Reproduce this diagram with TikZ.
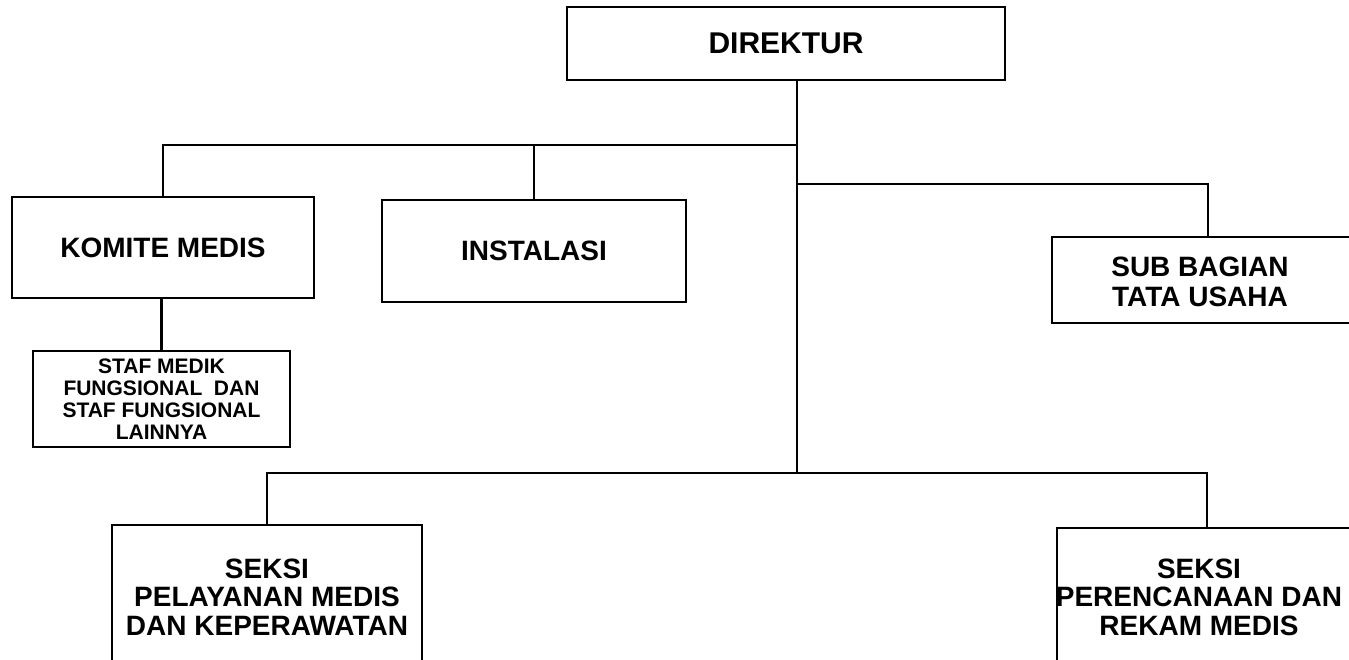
\documentclass[tikz,border=0pt]{standalone}
\usepackage{fontspec}
\setmainfont{Liberation Sans}

\begin{document}
\begin{tikzpicture}[x=1pt, y=-1pt, line width=2.8pt,
    box/.style = {draw, rectangle, inner sep=2pt, align=center, font=\bfseries\fontsize{28}{28.5}\selectfont},
    smallbox/.style = {box, font=\bfseries\fontsize{21}{22}\selectfont}]
            \useasboundingbox (0,0) rectangle (1349,660);
            \clip (0,0) rectangle (1349,660);
            % Nodes
            \node[box, font=\bfseries\fontsize{30}{32}\selectfont, minimum width=438pt, minimum height=73pt] (dir) at (786,43.5) {DIREKTUR};
            \node[box, minimum width=302pt, minimum height=101pt] (komite) at (163,247.5) {KOMITE MEDIS};
            \node[box, minimum width=304pt, minimum height=102pt] (instal) at (534,251) {INSTALASI};
            \node[smallbox, minimum width=257pt, minimum height=96pt] (staf) at (161.5,399) {STAF MEDIK\\FUNGSIONAL\ \ DAN\\STAF FUNGSIONAL\\LAINNYA};
            \node[box, font=\bfseries\fontsize{28}{30}\selectfont, minimum width=306pt, minimum height=86pt,
                  label={[font=\bfseries\fontsize{28}{30}\selectfont, align=center, xshift=-5pt, yshift=-2pt]center:SUB BAGIAN\\TATA USAHA}] (subbag) at (1205,280) {};
            \node[box, minimum width=310pt, minimum height=144pt] (seksiA) at (267,597) {SEKSI\\PELAYANAN MEDIS\\DAN KEPERAWATAN};
            \node[box, minimum width=300pt, minimum height=138pt,
                  label={[font=\bfseries\fontsize{28}{28.5}\selectfont, align=center, xshift=-8pt]center:SEKSI\\PERENCANAAN DAN\\REKAM MEDIS}] (seksiB) at (1207,597) {};
            \coordinate (top) at (797,145);
            \coordinate (mid) at (797,184);
            \coordinate (low) at (797,473);
            % Edges
            \draw (dir.south -| top) -- (low);
            \draw (komite.north) |- (top);
            \draw (instal.north) -- (instal.north |- top);
            \draw (mid) -| ([xshift=3pt]subbag.north);
            \draw (staf.north) -- (staf.north |- komite.south);
            \draw (seksiA.north) |- (low);
            \draw (low) -| (seksiB.north);
\end{tikzpicture}
\end{document}
